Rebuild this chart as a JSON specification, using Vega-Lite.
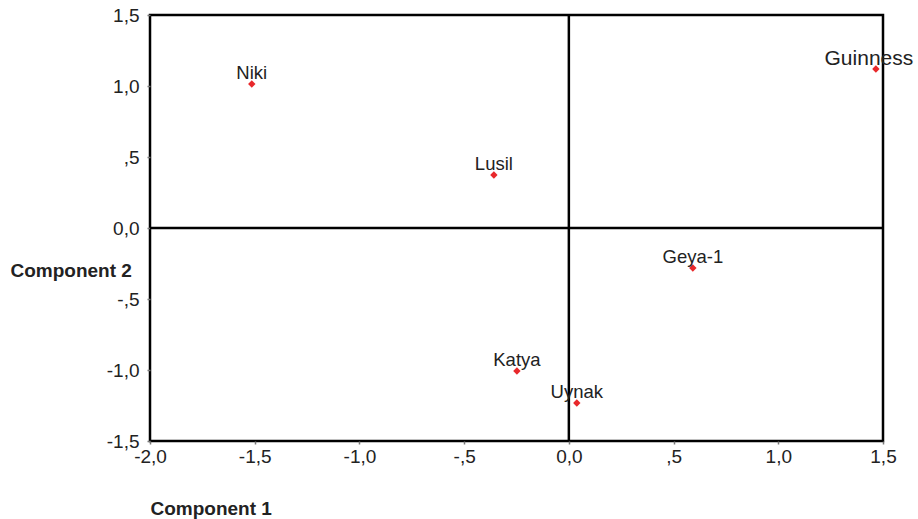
{
  "$schema": "https://vega.github.io/schema/vega-lite/v6.json",
  "width": 733,
  "height": 426,
  "autosize": {"type": "none"},
  "padding": {"left": 150, "top": 15, "right": 35, "bottom": 78},
  "config": {
    "font": "Liberation Sans",
    "view": {"stroke": "black", "strokeWidth": 2.5},
    "axis": {
      "grid": false,
      "domain": false,
      "labelFlush": false,
      "tickColor": "#777",
      "tickSize": 3,
      "tickWidth": 1.5,
      "labelFont": "Liberation Sans",
      "labelFontSize": 19,
      "labelColor": "#222",
      "titleFont": "Liberation Sans",
      "titleFontSize": 19,
      "titleFontWeight": "bold",
      "titleColor": "#222"
    }
  },
  "data": {
    "values": [
      {"name": "Niki", "c1": -1.514, "c2": 1.014},
      {"name": "Guinness", "c1": 1.466, "c2": 1.12},
      {"name": "Lusil", "c1": -0.358, "c2": 0.373},
      {"name": "Geya-1", "c1": 0.592, "c2": -0.282},
      {"name": "Katya", "c1": -0.248, "c2": -1.007},
      {"name": "Uynak", "c1": 0.038, "c2": -1.232}
    ]
  },
  "encoding": {
    "x": {
      "field": "c1", "type": "quantitative",
      "scale": {"domain": [-2, 1.5], "nice": false, "zero": false},
      "axis": {
        "title": "Component 1",
        "values": [-2, -1.5, -1, -0.5, 0, 0.5, 1, 1.5],
        "labelExpr": "datum.value == 0 ? '0,0' : (datum.value < 0 ? '-' : '') + (abs(datum.value) < 1 ? '' : floor(abs(datum.value))) + ',' + (abs(datum.value) % 1 == 0.5 ? '5' : '0')",
        "labelPadding": 3,
        "titleX": 0,
        "titleAnchor": "start",
        "titleAlign": "left",
        "titleY": 67,
        "titleBaseline": "middle"
      }
    },
    "y": {
      "field": "c2", "type": "quantitative",
      "scale": {"domain": [-1.5, 1.5], "nice": false, "zero": false},
      "axis": {
        "title": "Component 2",
        "values": [-1.5, -1, -0.5, 0, 0.5, 1, 1.5],
        "labelExpr": "datum.value == 0 ? '0,0' : (datum.value < 0 ? '-' : '') + (abs(datum.value) < 1 ? '' : floor(abs(datum.value))) + ',' + (abs(datum.value) % 1 == 0.5 ? '5' : '0')",
        "labelPadding": 8,
        "labelBaseline": "middle",
        "titleAngle": 0,
        "titleX": -140,
        "titleY": 255,
        "titleAlign": "left",
        "titleBaseline": "middle"
      }
    }
  },
  "layer": [
    {
      "data": {"values": [{"z": 0}]},
      "mark": {"type": "rule", "color": "black", "strokeWidth": 2.5},
      "encoding": {"x": {"field": "z", "type": "quantitative"}, "y": null}
    },
    {
      "data": {"values": [{"z": 0}]},
      "mark": {"type": "rule", "color": "black", "strokeWidth": 2.5},
      "encoding": {"y": {"field": "z", "type": "quantitative"}, "x": null}
    },
    {
      "mark": {"type": "point", "shape": "diamond", "filled": true, "color": "#e8282b", "size": 55, "opacity": 1}
    },
    {
      "transform": [{"filter": "datum.name != 'Guinness'"}],
      "mark": {"type": "text", "fontSize": 18.5, "color": "#222", "dy": -5, "baseline": "alphabetic", "align": "center"},
      "encoding": {"text": {"field": "name"}}
    },
    {
      "transform": [{"filter": "datum.name == 'Guinness'"}],
      "mark": {"type": "text", "fontSize": 21, "color": "#222", "dx": -7, "dy": -4, "baseline": "alphabetic", "align": "center"},
      "encoding": {"text": {"field": "name"}}
    }
  ]
}
